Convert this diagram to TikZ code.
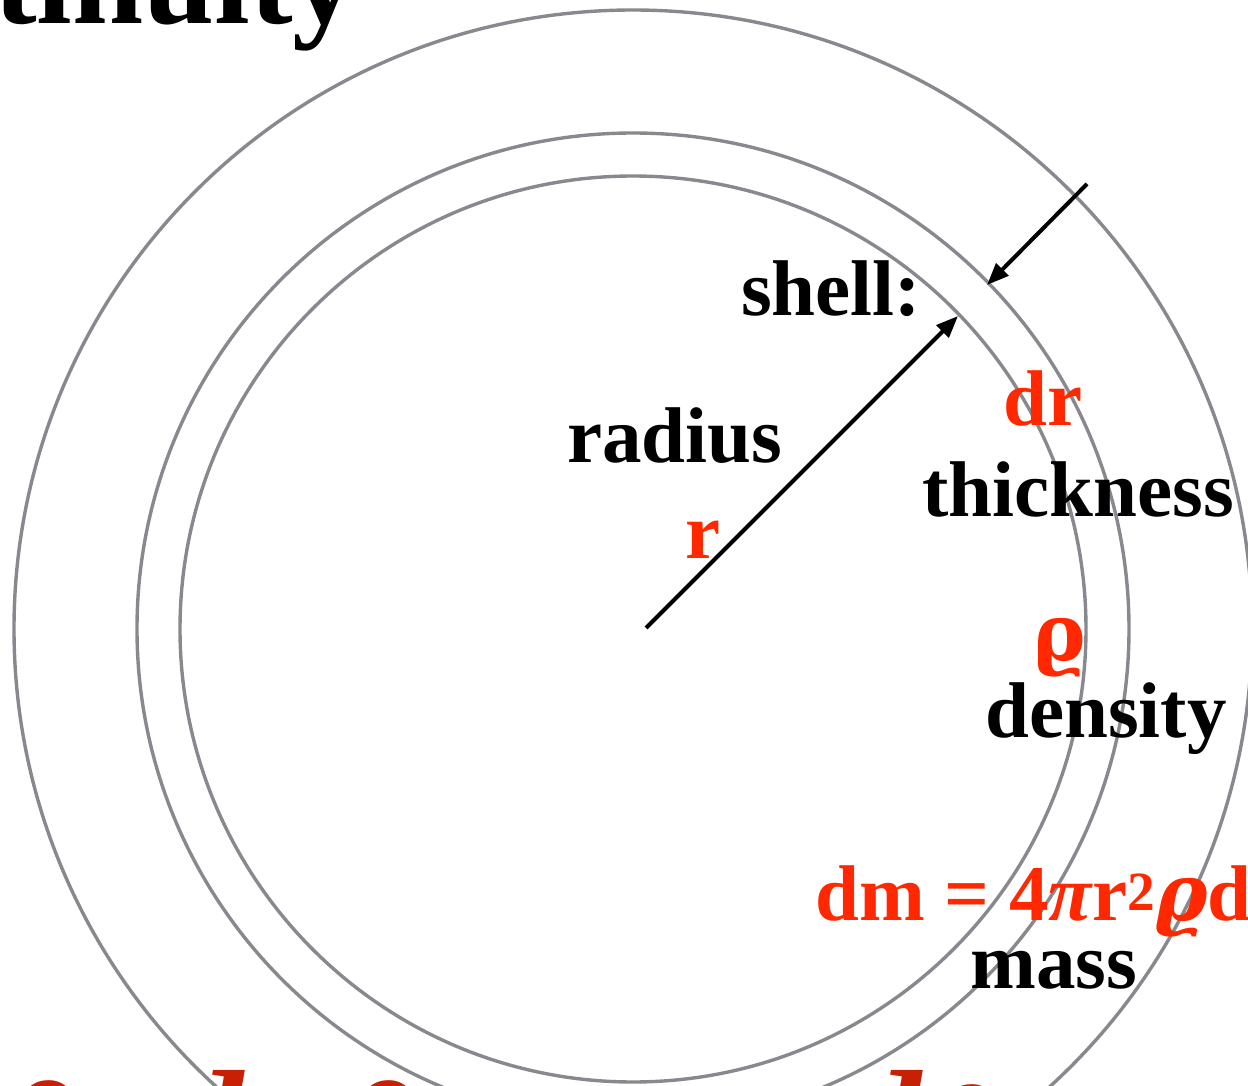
\documentclass[tikz,border=0pt]{standalone}
\usepackage{fontspec}
\setmainfont{Liberation Serif}
\newfontfamily\grkfont{DejaVu Serif}
\usepackage{xcolor}
\usetikzlibrary{arrows.meta, calc}
\definecolor{ringgray}{RGB}{136,137,142}
\definecolor{hired}{RGB}{255,40,0}
\definecolor{darkred}{RGB}{200,32,4}

\begin{document}
\begin{tikzpicture}[
  x=1pt, y=-1pt,
  ring/.style={draw=ringgray, line width=3.4pt},
  lbl/.style={inner sep=0pt, anchor=base west, text=black,
              font=\fontsize{79}{90}\selectfont\bfseries},
  rlbl/.style={lbl, text=hired},
  frag/.style={inner sep=0pt, anchor=base west, text=darkred,
               font=\fontsize{150}{160}\selectfont\bfseries\itshape},
  arr/.style={-{Triangle[length=22pt, width=17pt]}, line width=4pt, black}
]
\clip (0,0) rectangle (1248,1086);
%% Title (cut off)
\node[lbl, anchor=base east, font=\fontsize{128}{130}\selectfont\bfseries] (ttl) at (357,24) {tinuity};
%% Shells
\coordinate (ctr) at (633,629);
\draw[ring] (ctr) circle[radius=453pt];
\draw[ring] (ctr) circle[radius=496pt];
\draw[ring] (ctr) circle[radius=619pt];
%% Arrow end points
\coordinate (rbase) at (646,628);
\coordinate (rtip)  at (958,316);
\coordinate (dtail) at (1087,184);
\coordinate (dtip)  at (987,285);
\draw[arr] (rbase) -- (rtip);
\draw[arr] (dtail) -- (dtip);
%% Labels
\node[lbl]  (shl) at (741,316) {shell:};
\node[lbl]  (rad) at (567,462) {radius};
\node[rlbl] (rr)  at (685,558) {r};
\node[rlbl] (dr)  at (1003,425) {dr};
\node[lbl]  (thk) at (922,516) {thickness};
\node[rlbl] (rh)  at (1033,660) {{\grkfont ϱ}};
\node[lbl]  (den) at (985,737) {density};
\node[rlbl] (dm)  at (815,920) {dm = 4{\itshape π}r\textsuperscript{2}{\grkfont\itshape ϱ}dr};
\node[lbl]  (mas) at (970,988) {mass};
%% Lower formula (cut off)
\node[frag] (f1) at (5,1179) {{\grkfont ∂}};
\node[frag] (f2) at (168,1174) {d};
\node[frag] (f3) at (345,1179) {{\grkfont ∂}};
\node[frag] (f4) at (846,1174) {d};
\node[frag] (f5) at (928,1183) {{\grkfont ∂}};
\end{tikzpicture}
\end{document}
